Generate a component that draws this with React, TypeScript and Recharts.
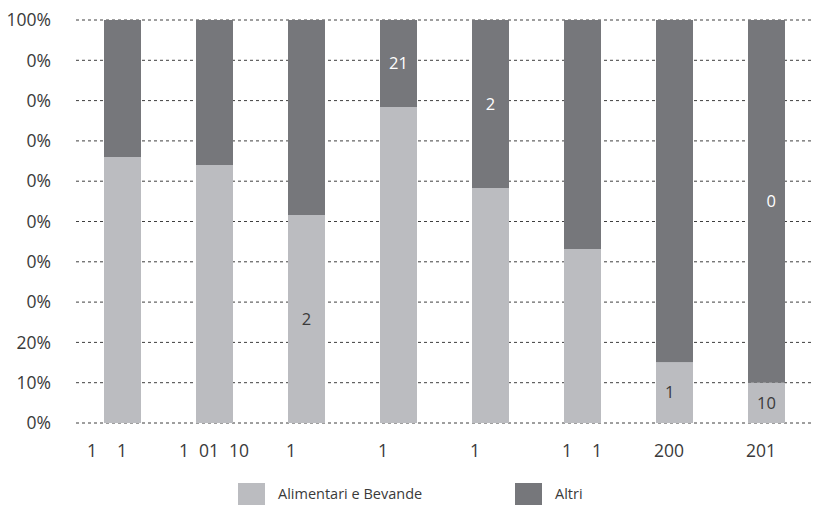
import React from "react";
import { BarChart, Bar, XAxis, YAxis, CartesianGrid, Legend, LabelList } from "recharts";

const categories = [
  "1\u2007\u20071\u2007\u2007\u2007",
  "1\u200701\u200710",
  "1\u2007\u2007\u2007",
  "1\u2007\u2007\u2007",
  "1\u2007\u2007\u2007",
  "1\u2007\u20071",
  "200\u2007",
  "201\u2007",
];
const alimentari = [66.0, 64.0, 51.6, 78.4, 58.3, 43.2, 15.1, 10.0];
const altri = [34.0, 36.0, 48.4, 21.6, 41.7, 56.8, 84.9, 90.0];
const alimentariLabels = ["", "", "2", "", "", "", "1\u2007", "10"];
const altriLabels = ["", "", "", "21", "2", "", "", "\u20070"];
const yTicks = [0, 10, 20, 30, 40, 50, 60, 70, 80, 90, 100];
const yTickLabels = ["0%", "10%", "20%", "0%", "0%", "0%", "0%", "0%", "0%", "0%", "100%"];
const seriesNames = ["Alimentari e Bevande", "Altri"];

const LIGHT = "#BBBCC0";
const DARK = "#76777B";
const TEXT = "#3a3a3a";
const FONT = "'Open Sans', sans-serif";

const data = categories.map((c, i) => ({
  cat: c,
  alim: alimentari[i],
  altri: altri[i],
  alimLabel: alimentariLabels[i],
  altriLabel: altriLabels[i],
}));

const YTick = (props: any) => {
  const { x, y, payload } = props;
  const idx = yTicks.indexOf(payload.value);
  return (
    <text x={x} y={y} dy="0.355em" textAnchor="end" fill={TEXT} fontSize={17.5} fontFamily={FONT}>
      {yTickLabels[idx]}
    </text>
  );
};

const XTick = (props: any) => {
  const { x, y, payload } = props;
  return (
    <text x={x} y={y} dy="0.71em" textAnchor="middle" fill={TEXT} fontSize={17.5} fontFamily={FONT} style={{ whiteSpace: "pre" }}>
      {payload.value}
    </text>
  );
};

const makeLabel = (color: string) => (props: any) => {
  const { x, y, width, height, value } = props;
  if (!value) return null;
  return (
    <text x={x + width / 2} y={y + height / 2} dy="0.355em" textAnchor="middle" fill={color} fontSize={16.5} fontFamily={FONT} style={{ whiteSpace: "pre" }}>
      {value}
    </text>
  );
};

const LegendContent = () => (
  <div style={{ height: 30, position: "relative", fontFamily: FONT, fontSize: 14.5, color: TEXT }}>
    <div style={{ position: "absolute", left: 238, top: 8, width: 27, height: 22, background: LIGHT }} />
    <div style={{ position: "absolute", left: 278, top: 8, height: 22, lineHeight: "22px" }}>{seriesNames[0]}</div>
    <div style={{ position: "absolute", left: 515, top: 8, width: 27, height: 22, background: DARK }} />
    <div style={{ position: "absolute", left: 555, top: 8, height: 22, lineHeight: "22px" }}>{seriesNames[1]}</div>
  </div>
);

export default function App() {
  return (
    <div style={{ position: "absolute", left: 0, top: 0, background: "#fff" }}>
      <BarChart
        width={813}
        height={510}
        data={data}
        margin={{ top: 20, right: 1, bottom: 5, left: 0 }}
        barSize={37}
      >
        <CartesianGrid vertical={false} horizontal={true} stroke="#3f3f3f" strokeDasharray="3 3" />
        <XAxis
          dataKey="cat"
          axisLine={false}
          tickLine={false}
          tickSize={0}
          tickMargin={22}
          height={52}
          interval={0}
          tick={<XTick />}
        />
        <YAxis
          type="number"
          domain={[0, 100]}
          ticks={yTicks}
          axisLine={false}
          tickLine={false}
          tickSize={0}
          tickMargin={25}
          width={76}
          interval={0}
          tick={<YTick />}
        />
        <Legend verticalAlign="bottom" content={<LegendContent />} wrapperStyle={{ left: 0, width: 813 }} />
        <Bar dataKey="alim" name={seriesNames[0]} stackId="a" fill={LIGHT} isAnimationActive={false}>
          <LabelList dataKey="alimLabel" content={makeLabel(TEXT)} />
        </Bar>
        <Bar dataKey="altri" name={seriesNames[1]} stackId="a" fill={DARK} isAnimationActive={false}>
          <LabelList dataKey="altriLabel" content={makeLabel("#ffffff")} />
        </Bar>
      </BarChart>
    </div>
  );
}
